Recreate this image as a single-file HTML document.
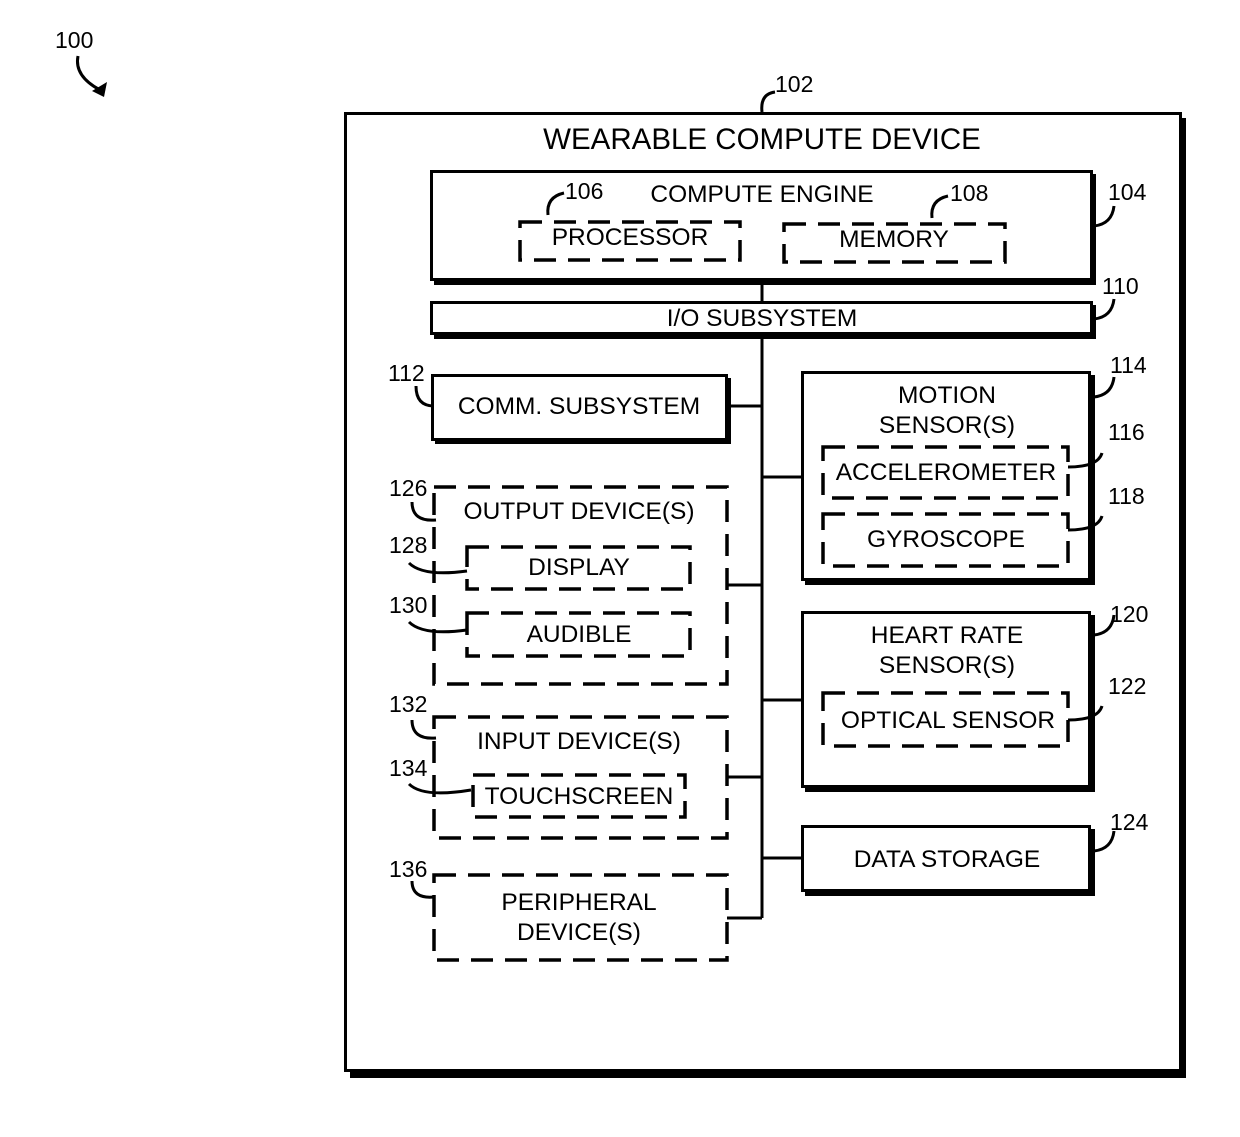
<!DOCTYPE html>
<html><head><meta charset="utf-8"><style>
html,body{margin:0;padding:0;background:#fff;}
svg{display:block;}
text{font-family:"Liberation Sans",Arial,sans-serif;fill:#000;}
.t{font-size:24.5px;text-anchor:middle;}
.n{font-size:23px;}
.s{fill:#fff;stroke:#000;stroke-width:3;}
.sh{fill:#000;}
.d{fill:none;stroke:#000;stroke-width:3.5;stroke-dasharray:22,12;}
.l{fill:none;stroke:#000;stroke-width:3;}
</style></head><body>
<svg width="1240" height="1137" viewBox="0 0 1240 1137" xmlns="http://www.w3.org/2000/svg">
<text class="n" x="55" y="48">100</text>
<path class="l" d="M78,56 q-4,20 22,34"/>
<path d="M107,82 l-3,15 l-12,-6 z" class="sh"/>

<rect class="sh" x="350" y="118" width="836" height="960"/>
<rect class="s" x="345.5" y="113.5" width="835" height="957"/>
<text class="n" x="775" y="92">102</text>
<path class="l" d="M762,112 q-2,-18 13,-20"/>
<text class="t" x="762" y="149" style="font-size:29.5px">WEARABLE COMPUTE DEVICE</text>

<path class="l" d="M762,280 V918"/>

<rect class="sh" x="434" y="174" width="662" height="111"/>
<rect class="s" x="431.5" y="171.5" width="660" height="108"/>
<text class="t" x="762" y="202">COMPUTE ENGINE</text>
<text class="n" x="1108" y="200">104</text>
<path class="l" d="M1094,226 q18,-2 20,-20"/>
<rect class="d" x="520" y="222" width="220" height="38"/>
<text class="t" x="630" y="245">PROCESSOR</text>
<text class="n" x="565" y="199">106</text>
<path class="l" d="M548,215 q-2,-18 16,-22"/>
<rect class="d" x="784" y="224" width="221" height="38"/>
<text class="t" x="894" y="247">MEMORY</text>
<text class="n" x="950" y="201">108</text>
<path class="l" d="M932,218 q-2,-18 16,-22"/>

<rect class="sh" x="434" y="305" width="662" height="34"/>
<rect class="s" x="431.5" y="302.5" width="660" height="31"/>
<text class="t" x="762" y="326">I/O SUBSYSTEM</text>
<text class="n" x="1102" y="294">110</text>
<path class="l" d="M1094,319 q18,-2 20,-20"/>

<rect class="sh" x="435" y="378" width="296" height="66"/>
<rect class="s" x="432.5" y="375.5" width="294" height="64"/>
<text class="t" x="579" y="414">COMM. SUBSYSTEM</text>
<path class="l" d="M728,406 H762"/>
<text class="n" x="388" y="381">112</text>
<path class="l" d="M434,406 q-18,0 -18,-20"/>

<rect class="sh" x="805" y="375" width="290" height="210"/>
<rect class="s" x="802.5" y="372.5" width="287" height="207"/>
<text class="t" x="947" y="403">MOTION</text>
<text class="t" x="947" y="433">SENSOR(S)</text>
<path class="l" d="M762,477 H802"/>
<text class="n" x="1110" y="373">114</text>
<path class="l" d="M1094,397 q18,-2 20,-20"/>
<rect class="d" x="823" y="447" width="245" height="51"/>
<text class="t" x="946" y="480">ACCELEROMETER</text>
<path class="l" d="M1068,467 q30,0 34,-14"/>
<text class="n" x="1108" y="440">116</text>
<rect class="d" x="823" y="514" width="245" height="52"/>
<text class="t" x="946" y="547">GYROSCOPE</text>
<path class="l" d="M1068,530 q30,0 34,-14"/>
<text class="n" x="1108" y="504">118</text>

<rect class="sh" x="805" y="615" width="290" height="177"/>
<rect class="s" x="802.5" y="612.5" width="287" height="174"/>
<text class="t" x="947" y="643">HEART RATE</text>
<text class="t" x="947" y="673">SENSOR(S)</text>
<path class="l" d="M762,700 H802"/>
<text class="n" x="1110" y="622">120</text>
<path class="l" d="M1094,635 q18,-2 20,-20"/>
<rect class="d" x="823" y="693" width="245" height="53"/>
<text class="t" x="948" y="728">OPTICAL SENSOR</text>
<path class="l" d="M1068,720 q30,0 34,-14"/>
<text class="n" x="1108" y="694">122</text>

<rect class="sh" x="805" y="829" width="290" height="67"/>
<rect class="s" x="802.5" y="826.5" width="287" height="64"/>
<text class="t" x="947" y="867">DATA STORAGE</text>
<path class="l" d="M762,858 H802"/>
<text class="n" x="1110" y="830">124</text>
<path class="l" d="M1094,851 q18,-2 20,-20"/>

<rect class="d" x="434" y="487" width="293" height="197"/>
<text class="t" x="579" y="519">OUTPUT DEVICE(S)</text>
<path class="l" d="M727,585 H762"/>
<text class="n" x="389" y="496">126</text>
<path class="l" d="M436,520 q-24,2 -24,-18"/>
<rect class="d" x="467" y="547" width="223" height="42"/>
<text class="t" x="579" y="575">DISPLAY</text>
<text class="n" x="389" y="553">128</text>
<path class="l" d="M409,563 q14,14 58,8"/>
<rect class="d" x="467" y="613" width="223" height="43"/>
<text class="t" x="579" y="642">AUDIBLE</text>
<text class="n" x="389" y="613">130</text>
<path class="l" d="M409,622 q14,14 58,8"/>

<rect class="d" x="434" y="717" width="293" height="121"/>
<text class="t" x="579" y="749">INPUT DEVICE(S)</text>
<path class="l" d="M727,777 H762"/>
<text class="n" x="389" y="712">132</text>
<path class="l" d="M436,738 q-24,2 -24,-18"/>
<rect class="d" x="473" y="775" width="212" height="42"/>
<text class="t" x="579" y="804">TOUCHSCREEN</text>
<text class="n" x="389" y="776">134</text>
<path class="l" d="M409,784 q14,14 62,6"/>

<rect class="d" x="434" y="875" width="293" height="85"/>
<text class="t" x="579" y="910">PERIPHERAL</text>
<text class="t" x="579" y="940">DEVICE(S)</text>
<path class="l" d="M727,918 H762"/>
<text class="n" x="389" y="877">136</text>
<path class="l" d="M434,897 q-22,2 -22,-16"/>
</svg>
</body></html>
